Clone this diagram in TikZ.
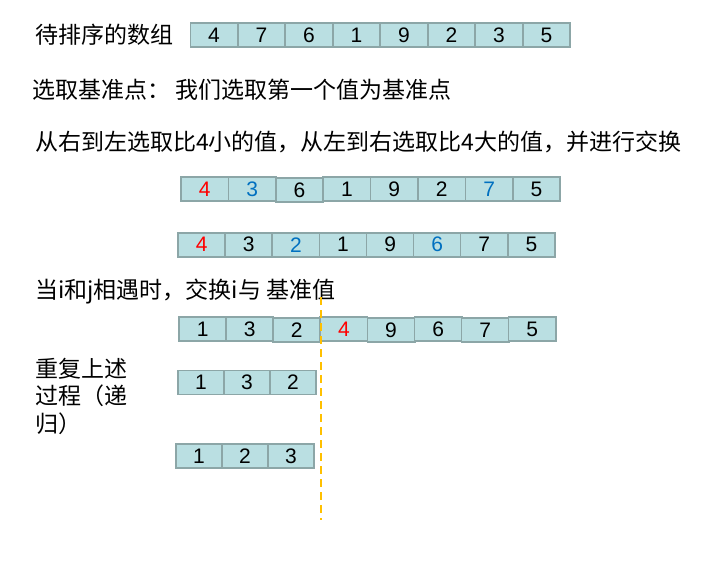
\documentclass[tikz,border=0pt]{standalone}
\usepackage{fontspec}
\setmainfont{Liberation Sans}
\newfontfamily\cjk{Noto Sans CJK SC}
\definecolor{cellfill}{RGB}{186,223,226}
\definecolor{cellline}{RGB}{140,166,167}
\definecolor{pivotred}{RGB}{255,0,0}
\definecolor{swapblue}{RGB}{0,112,192}
\definecolor{splitline}{RGB}{255,192,0}

\begin{document}
\begin{tikzpicture}[x=1pt, y=-1pt]
        \tikzstyle{cell}=[draw=cellline, fill=cellfill, line width=1.6pt, minimum height=24pt, inner sep=0pt, font=\fontsize{21}{24}\selectfont]
        \tikzstyle{wide}=[cell, minimum width=47.4pt]
        \tikzstyle{narrow}=[cell, minimum width=46pt]
        \tikzstyle{label}=[anchor=west, inner sep=0pt, font=\cjk\fontsize{23}{27.5}\selectfont]
        \tikzstyle{split}=[draw=splitline, line width=1.8pt, dash pattern=on 8pt off 5pt]

        \useasboundingbox (0,0) rectangle (701,583);

        \node[label](title) at (35,35){待排序的数组};
        \node[wide](a1) at (214,35){4};
        \node[wide](a2) at (261.5,35){7};
        \node[wide](a3) at (309,35){6};
        \node[wide](a4) at (356.5,35){1};
        \node[wide](a5) at (404,35){9};
        \node[wide](a6) at (451.5,35){2};
        \node[wide](a7) at (499,35){3};
        \node[wide](a8) at (546.5,35){5};

        \node[label](pick) at (32,90){选取基准点： 我们选取第一个值为基准点};
        \node[label](rule) at (35,142){从右到左选取比4小的值，从左到右选取比4大的值，并进行交换};

        \node[wide, text=pivotred](b1) at (204.7,189){4};
        \node[wide, text=swapblue](b2) at (252.1,189){3};
        \node[wide](b3) at (299.5,190){6};
        \node[wide](b4) at (346.9,189){1};
        \node[wide](b5) at (394.3,189){9};
        \node[wide](b6) at (441.7,189){2};
        \node[wide, text=swapblue](b7) at (489.1,189){7};
        \node[wide](b8) at (536.5,189){5};

        \node[wide, text=pivotred](c1) at (201.7,244.7){4};
        \node[wide](c2) at (248.8,244.7){3};
        \node[wide, text=swapblue](c3) at (295.9,244.7){2};
        \node[wide](c4) at (343,244.7){1};
        \node[wide](c5) at (390.1,244.7){9};
        \node[wide, text=swapblue](c6) at (437.2,244.7){6};
        \node[wide](c7) at (484.3,244.7){7};
        \node[wide](c8) at (531.4,244.7){5};

        \node[label](meet) at (35,292){当i和j相遇时，交换i与 基准值};

        \node[wide](d1) at (202.6,329){1};
        \node[wide](d2) at (249.7,329){3};
        \node[wide](d3) at (296.8,330){2};
        \node[wide, text=pivotred](d4) at (343.9,329){4};
        \node[wide](d5) at (391,330){9};
        \node[wide](d6) at (438.1,329){6};
        \node[wide](d7) at (485.2,330){7};
        \node[wide](d8) at (532.3,329){5};

        \node[label, align=left](again) at (35,396){重复上述\\过程（递\\归）};

        \node[narrow](e1) at (201,382.5){1};
        \node[narrow](e2) at (247,382.5){3};
        \node[narrow](e3) at (293,382.5){2};

        \node[narrow](f1) at (199,456){1};
        \node[narrow](f2) at (245,456){2};
        \node[narrow](f3) at (291,456){3};

        \coordinate (cuttop) at (321,297);
        \coordinate (cutbot) at (321,520);
        \draw[split] (cuttop) -- (cutbot);

\end{tikzpicture}
\end{document}
